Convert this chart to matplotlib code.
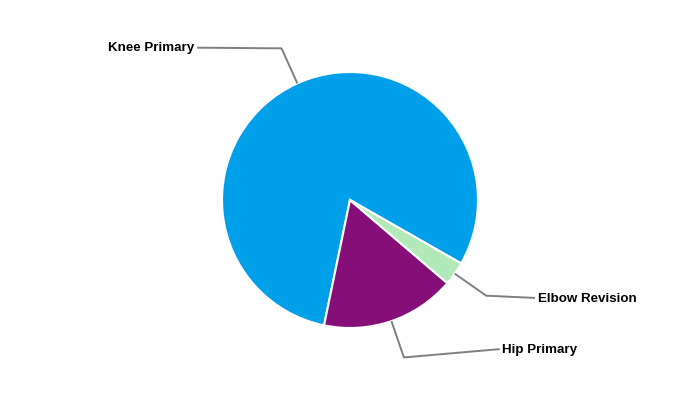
import numpy as np
import matplotlib.pyplot as plt

# data
labels = ['Knee Primary', 'Hip Primary', 'Elbow Revision']
values = [80, 17, 3]
colors = ['#009fe9', '#860e78', '#b1eab8']
start_angle = -29.7

# label anchor points (in units of pie radius) and text alignment
label_pos = [(-1.195, 1.19), (1.17, -1.165), (1.445, -0.765)]
label_ha = ['right', 'left', 'left']

W, H, R = 700, 400, 128  # pixel size and pie radius in pixels

fig = plt.figure(figsize=(7, 4), dpi=100)
ax = fig.add_axes([0, 0, 1, 1])

wedges, _ = ax.pie(values, colors=colors, startangle=start_angle, counterclock=True,
                   radius=1.0, center=(0, 0), frame=True,
                   wedgeprops=dict(edgecolor='white', linewidth=1.5))
ax.set_xlim(-W / 2 / R, W / 2 / R)
ax.set_ylim(-H / 2 / R, H / 2 / R)
ax.set_aspect('equal')
ax.axis('off')

# connectors and labels
for w, lab, (lx, ly), ha in zip(wedges, labels, label_pos, label_ha):
    mid = np.deg2rad((w.theta1 + w.theta2) / 2)
    x0, y0 = np.cos(mid), np.sin(mid)
    x1, y1 = 1.3 * np.cos(mid), 1.3 * np.sin(mid)
    ax.plot([x0, x1, lx], [y0, y1, ly], color='#7f7f7f', lw=1.4, zorder=1,
            solid_capstyle='butt')
    dx = -0.02 if ha == 'right' else 0.02
    ax.text(lx + dx, ly - 0.006, lab, ha=ha, va='center', fontsize=9.6, fontweight='bold',
            family='Liberation Sans', color='black')

fig.savefig('out.png', dpi=100)
